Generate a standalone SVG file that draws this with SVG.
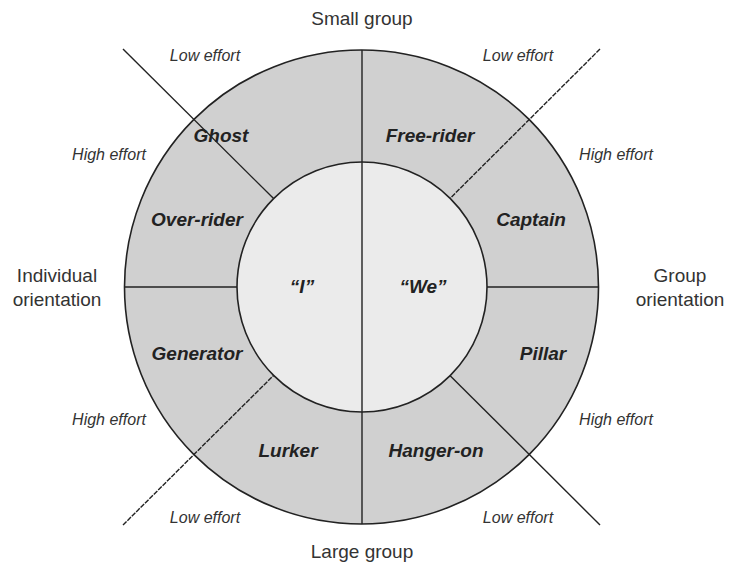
<svg xmlns="http://www.w3.org/2000/svg" width="729" height="566" viewBox="0 0 729 566">
<style>
.ring{fill:#d0d0d0;stroke:#222;stroke-width:1.6}
.core{fill:#ebebeb;stroke:#222;stroke-width:1.6}
.ln{stroke:#222;stroke-width:1.4;fill:none}
.dl{stroke:#222;stroke-width:1.4;fill:none;stroke-dasharray:5 1.2}
.node{font-family:"Liberation Sans",Arial,sans-serif;font-size:19px;font-weight:bold;font-style:italic;fill:#222;text-anchor:middle}
.eff{font-family:"Liberation Sans",Arial,sans-serif;font-size:16px;font-style:italic;fill:#333;text-anchor:middle}
.axis{font-family:"Liberation Sans",Arial,sans-serif;font-size:19px;fill:#333;text-anchor:middle}
</style>
<rect width="729" height="566" fill="#fff"/>
<g id="outer-ring"><circle class="ring" cx="361.5" cy="287" r="237"/></g>
<g id="connectors">
<line class="ln" x1="123" y1="49" x2="273.6" y2="198.6"/>
<line class="dl" x1="600" y1="49" x2="449.9" y2="198.6"/>
<line class="dl" x1="123" y1="525" x2="273.6" y2="375.4"/>
<line class="ln" x1="600" y1="525" x2="449.9" y2="375.4"/>
<line class="ln" x1="124.5" y1="287" x2="237" y2="287"/>
<line class="ln" x1="487" y1="287" x2="598.5" y2="287"/>
</g>
<g id="inner-core"><circle class="core" cx="362" cy="287" r="125"/></g>
<g id="divider"><line class="ln" x1="362" y1="50" x2="362" y2="524"/></g>
<g id="ghost"><text class="node" x="221" y="142">Ghost</text></g>
<g id="free-rider"><text class="node" x="430" y="142">Free-rider</text></g>
<g id="over-rider"><text class="node" x="197" y="226">Over-rider</text></g>
<g id="captain"><text class="node" x="531" y="226">Captain</text></g>
<g id="i"><text class="node" x="302" y="293">“I”</text></g>
<g id="we"><text class="node" x="423" y="293">“We”</text></g>
<g id="generator"><text class="node" x="197" y="360">Generator</text></g>
<g id="pillar"><text class="node" x="543" y="360">Pillar</text></g>
<g id="lurker"><text class="node" x="288" y="457">Lurker</text></g>
<g id="hanger-on"><text class="node" x="436" y="457">Hanger-on</text></g>
<g id="effort-labels">
<text class="eff" x="205" y="61">Low effort</text>
<text class="eff" x="518" y="61">Low effort</text>
<text class="eff" x="109" y="160">High effort</text>
<text class="eff" x="616" y="160">High effort</text>
<text class="eff" x="109" y="425">High effort</text>
<text class="eff" x="616" y="425">High effort</text>
<text class="eff" x="205" y="523">Low effort</text>
<text class="eff" x="518" y="523">Low effort</text>
</g>
<g id="axis-labels">
<text class="axis" x="362" y="25">Small group</text>
<text class="axis" x="362" y="558">Large group</text>
<text class="axis" x="57" y="282">Individual</text>
<text class="axis" x="57" y="306">orientation</text>
<text class="axis" x="680" y="282">Group</text>
<text class="axis" x="680" y="306">orientation</text>
</g>
</svg>
